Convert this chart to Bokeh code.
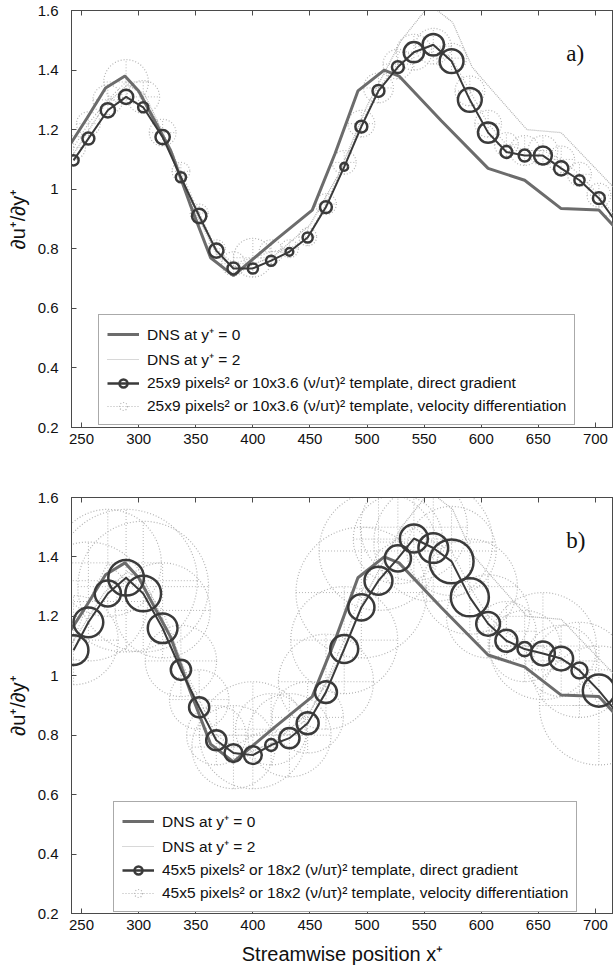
import math
from bokeh.plotting import figure
from bokeh.layouts import column
from bokeh.models import Range1d, Legend, LegendItem, LinearAxis, FixedTicker, Label, ColumnDataSource
from bokeh.embed import file_html
from bokeh.resources import INLINE

# ---------------- data ----------------
x_ticks = [250, 300, 350, 400, 450, 500, 550, 600, 650, 700]
y_ticks = [0.2, 0.4, 0.6, 0.8, 1.0, 1.2, 1.4, 1.6]

dns0_x = [240, 255, 271, 288, 300, 328, 345, 363, 383, 420, 452, 472, 492, 515, 528, 565, 606, 638, 670, 703, 720]
dns0_y = [1.15, 1.24, 1.34, 1.38, 1.33, 1.13, 0.95, 0.77, 0.71, 0.83, 0.93, 1.12, 1.33, 1.40, 1.38, 1.23, 1.07, 1.03, 0.935, 0.93, 0.86]

dns2_x = [240, 270, 290, 305, 330, 350, 370, 390, 420, 450, 475, 500, 530, 555, 575, 592, 610, 640, 670, 690, 720]
dns2_y = [1.10, 1.28, 1.35, 1.32, 1.12, 0.92, 0.77, 0.73, 0.78, 0.88, 1.05, 1.28, 1.50, 1.62, 1.56, 1.41, 1.33, 1.20, 1.19, 1.11, 0.99]

pos_x = [243, 256, 273, 289, 304, 321, 337, 353, 368, 383, 400, 416, 432, 448, 464, 480,
         495, 510, 527, 541, 558, 574, 590, 606, 622, 638, 654, 670, 686, 703, 717]

# panel a) 25x9 template
dg_a_y = [1.097, 1.17, 1.265, 1.31, 1.275, 1.175, 1.04, 0.91, 0.794, 0.734, 0.734, 0.76, 0.79, 0.838, 0.94, 1.075,
          1.21, 1.33, 1.41, 1.46, 1.485, 1.43, 1.30, 1.19, 1.125, 1.113, 1.113, 1.07, 1.03, 0.97, 0.895]
dg_a_unc = [0.017, 0.020, 0.024, 0.024, 0.017, 0.024, 0.017, 0.024, 0.024, 0.020, 0.017, 0.017, 0.013, 0.017, 0.020, 0.013,
            0.020, 0.020, 0.020, 0.034, 0.036, 0.040, 0.040, 0.034, 0.020, 0.020, 0.030, 0.024, 0.017, 0.020, 0.017]
vd_a_y = [1.14, 1.22, 1.30, 1.36, 1.31, 1.19, 1.06, 0.92, 0.80, 0.75, 0.77, 0.79, 0.80, 0.84, 0.95, 1.09,
          1.22, 1.34, 1.42, 1.46, 1.48, 1.44, 1.33, 1.22, 1.15, 1.13, 1.13, 1.10, 1.05, 0.98, 0.91]
vd_a_unc = [0.04, 0.04, 0.05, 0.075, 0.055, 0.045, 0.03, 0.03, 0.03, 0.04, 0.065, 0.04, 0.03, 0.03, 0.035, 0.04,
            0.045, 0.05, 0.05, 0.06, 0.06, 0.05, 0.05, 0.045, 0.04, 0.05, 0.05, 0.045, 0.04, 0.04, 0.04]

# panel b) 45x5 template
dg_b_y = [1.086, 1.18, 1.277, 1.33, 1.277, 1.16, 1.02, 0.894, 0.783, 0.74, 0.733, 0.767, 0.79, 0.84, 0.945, 1.09,
          1.23, 1.32, 1.395, 1.462, 1.43, 1.385, 1.264, 1.175, 1.118, 1.09, 1.075, 1.058, 1.018, 0.95, 0.885]
dg_b_unc = [0.050, 0.050, 0.044, 0.060, 0.060, 0.050, 0.034, 0.034, 0.034, 0.030, 0.030, 0.020, 0.034, 0.037, 0.037, 0.047,
            0.044, 0.047, 0.044, 0.047, 0.050, 0.074, 0.064, 0.040, 0.037, 0.024, 0.040, 0.040, 0.027, 0.054, 0.020]
vd_b_y = [1.12, 1.25, 1.38, 1.32, 1.30, 1.22, 1.05, 0.92, 0.80, 0.76, 0.80, 0.82, 0.80, 0.86, 0.98, 1.12,
          1.28, 1.42, 1.46, 1.50, 1.45, 1.42, 1.30, 1.20, 1.15, 1.10, 1.10, 1.05, 1.02, 0.90, 0.90]
vd_b_unc = [0.15, 0.20, 0.18, 0.24, 0.22, 0.16, 0.12, 0.10, 0.10, 0.14, 0.18, 0.12, 0.14, 0.12, 0.16, 0.18,
            0.22, 0.20, 0.15, 0.18, 0.20, 0.15, 0.16, 0.14, 0.10, 0.12, 0.18, 0.12, 0.16, 0.20, 0.14]

label_a = ["DNS at y\u207a = 0", "DNS at y\u207a = 2",
           "25x9 pixels\u00b2 or 10x3.6 (\u03bd/u\u03c4)\u00b2 template, direct gradient",
           "25x9 pixels\u00b2 or 10x3.6 (\u03bd/u\u03c4)\u00b2 template, velocity differentiation"]
label_b = ["DNS at y\u207a = 0", "DNS at y\u207a = 2",
           "45x5 pixels\u00b2 or 18x2 (\u03bd/u\u03c4)\u00b2 template, direct gradient",
           "45x5 pixels\u00b2 or 18x2 (\u03bd/u\u03c4)\u00b2 template, velocity differentiation"]

# ---------------- styling ----------------
FONT = "Liberation Sans"
AX = "#4a4a4a"
DNS0_C = "#6c6c6c"
DNS2_C = "#b0b0b0"
DG_C = "#3a3a3a"
VD_C = "#b4b4b4"

X0, X1 = 241.2, 715.8
Y0, Y1 = 0.2, 1.6
W = 613
LEFT = 71


def make_panel(dg_y, dg_unc, vd_y, vd_unc, labels, tag, height, top, bottom, legend_loc, xlabel=None):
    p = figure(width=W, height=height, x_range=Range1d(X0, X1), y_range=Range1d(Y0, Y1),
               output_backend="svg", toolbar_location=None,
               min_border_left=LEFT, min_border_right=0, min_border_top=top, min_border_bottom=bottom)
    p.grid.visible = False
    p.outline_line_color = AX
    p.outline_line_width = 1
    p.background_fill_color = "white"
    p.border_fill_color = "white"

    for ax in (p.xaxis[0], p.yaxis[0]):
        ax.major_tick_in = 5
        ax.major_tick_out = 0
        ax.minor_tick_line_color = None
        ax.axis_line_color = AX
        ax.major_tick_line_color = AX
        ax.major_label_text_font = FONT
        ax.major_label_text_font_size = "15px"
        ax.major_label_text_color = "#111111"
    p.xaxis.ticker = FixedTicker(ticks=x_ticks)
    p.yaxis.ticker = FixedTicker(ticks=y_ticks)
    p.yaxis.major_label_overrides = {1.0: "1", 1: "1"}
    p.xaxis.major_label_standoff = 6
    p.yaxis.major_label_standoff = 13
    p.yaxis.axis_label = "\u2202u\u207a/\u2202y\u207a"
    p.yaxis.axis_label_text_font = FONT
    p.yaxis.axis_label_text_font_style = "normal"
    p.yaxis.axis_label_text_font_size = "20px"
    p.yaxis.axis_label_text_color = "#111111"
    p.yaxis.axis_label_standoff = 6
    if xlabel:
        p.xaxis.axis_label = xlabel
        p.xaxis.axis_label_text_font = FONT
        p.xaxis.axis_label_text_font_style = "normal"
        p.xaxis.axis_label_text_font_size = "20px"
        p.xaxis.axis_label_text_color = "#111111"
        p.xaxis.axis_label_standoff = 10

    top_ax = LinearAxis(ticker=FixedTicker(ticks=x_ticks), major_tick_in=5, major_tick_out=0,
                        major_label_text_color=None, major_label_text_font_size="1px", major_label_standoff=0,
                        minor_tick_line_color=None, axis_line_color=AX, major_tick_line_color=AX)
    p.add_layout(top_ax, "above")

    # pixel scale ratio so that the crosses span the same screen length in x as in y
    fw = W - LEFT
    fh = height - top - bottom
    k = (fh / (Y1 - Y0)) / (fw / (X1 - X0))

    # velocity differentiation (light dotted circles with crosses)
    src_v = ColumnDataSource(dict(x=pos_x, y=vd_y, r=vd_unc,
                                  ylo=[a - b for a, b in zip(vd_y, vd_unc)],
                                  yhi=[a + b for a, b in zip(vd_y, vd_unc)],
                                  xlo=[a - b * k for a, b in zip(pos_x, vd_unc)],
                                  xhi=[a + b * k for a, b in zip(pos_x, vd_unc)]))
    p.segment(x0="x", y0="ylo", x1="x", y1="yhi", source=src_v, line_color=VD_C, line_width=1, line_dash="1 2")
    p.segment(x0="xlo", y0="y", x1="xhi", y1="y", source=src_v, line_color=VD_C, line_width=1, line_dash="1 2")
    p.circle(x="x", y="y", radius="r", radius_dimension="y", source=src_v, fill_color=None,
             line_color=VD_C, line_width=1.2, line_dash="1 2")
    p.line(pos_x, vd_y, line_color=VD_C, line_width=1.2, line_dash="1 2")

    # DNS lines
    p.line(dns2_x, dns2_y, line_color=DNS2_C, line_width=1.2, line_dash="1 1")
    p.line(dns0_x, dns0_y, line_color=DNS0_C, line_width=3)

    # direct gradient
    src_d = ColumnDataSource(dict(x=pos_x, y=dg_y, r=dg_unc))
    p.line(pos_x, dg_y, line_color=DG_C, line_width=2)
    p.circle(x="x", y="y", radius="r", radius_dimension="y", source=src_d, fill_color=None,
             line_color=DG_C, line_width=2.5)

    # legend-only renderers
    nan = [float("nan")]
    l0 = p.line(nan, nan, line_color=DNS0_C, line_width=3)
    l2 = p.line(nan, nan, line_color=DNS2_C, line_width=1.2, line_dash="1 1")
    ld = p.line(nan, nan, line_color=DG_C, line_width=2.5)
    sd = p.scatter(nan, nan, marker="circle", size=11, fill_color=None, line_color=DG_C, line_width=2.5)
    lv = p.line(nan, nan, line_color=VD_C, line_width=1.2, line_dash="1 2")
    sv = p.scatter(nan, nan, marker="circle", size=12, fill_color=None, line_color=VD_C, line_width=1.2,
                   line_dash="1 2")

    legend = Legend(items=[LegendItem(label=labels[0], renderers=[l0]),
                           LegendItem(label=labels[1], renderers=[l2]),
                           LegendItem(label=labels[2], renderers=[ld, sd]),
                           LegendItem(label=labels[3], renderers=[lv, sv])],
                    location=legend_loc, label_text_font=FONT, label_text_font_size="15.5px",
                    label_text_color="#111111", glyph_width=32, glyph_height=20, label_height=20,
                    label_standoff=8, spacing=3, padding=8, margin=0,
                    border_line_color="#555555", border_line_width=1,
                    background_fill_color="white", background_fill_alpha=1.0)
    p.add_layout(legend, "center")

    p.add_layout(Label(x=674.5, y=1.455, text=tag, text_font="Liberation Serif", text_font_size="23px",
                       text_baseline="middle", text_align="left", text_color="#111111"))
    return p


p1 = make_panel(dg_a_y, dg_a_unc, vd_a_y, vd_a_unc, label_a, "a)", 470, 10, 43, (27, 2))
p2 = make_panel(dg_b_y, dg_b_unc, vd_b_y, vd_b_unc, label_b, "b)", 502, 27, 59, (42, 1),
                xlabel="Streamwise position x\u207a")

layout = column(p1, p2)
open("out.html", "w").write(file_html(layout, INLINE))
